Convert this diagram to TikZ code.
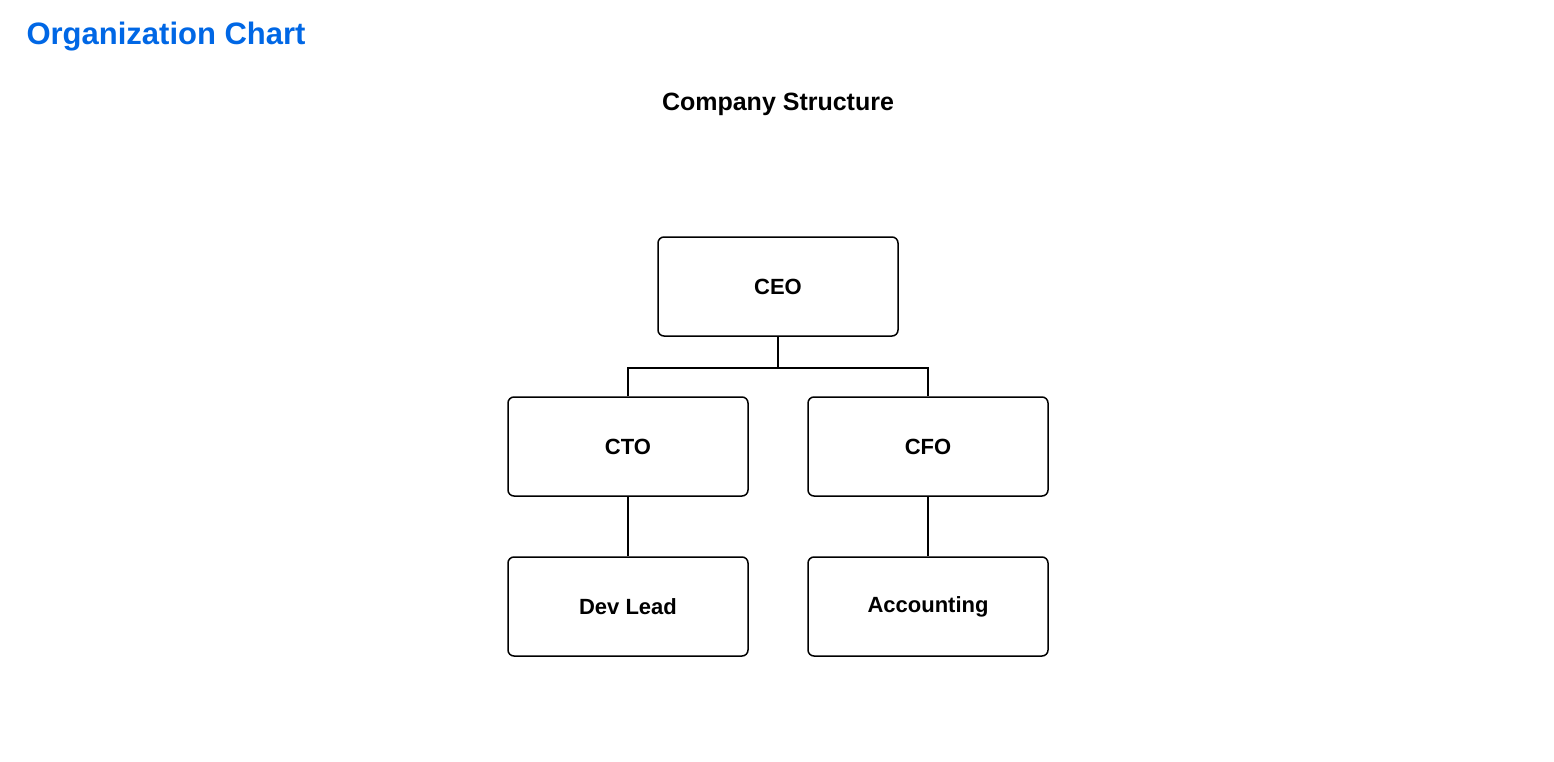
\documentclass[tikz,border=0pt]{standalone}
\usepackage{fontspec}
\setmainfont{Liberation Sans}
\begin{document}
\begin{tikzpicture}[x=1pt,y=-1pt,
  box/.style={draw,line width=1.5pt,rounded corners=6pt,minimum width=240pt,minimum height=99pt,font=\fontsize{22}{26}\selectfont\bfseries},
  link/.style={line width=1.5pt}]
\useasboundingbox (0,0) rectangle (1554,762);
\node[anchor=west,text=blue!55!cyan!90!black,font=\fontsize{31}{36}\selectfont\bfseries] (t) at (23,37) {Organization Chart};
\node[font=\fontsize{25}{30}\selectfont\bfseries] (s) at (778,104) {Company Structure};
\node[box] (ceo) at (778,286.5) {CEO};
\node[box] (cto) at (628,446.5) {CTO};
\node[box] (cfo) at (928,446.5) {CFO};
\node[box] (dev) at (628,606.5) {Dev Lead};
\node[box] (acc) at (928,606.5) {Accounting};
\draw[link] (ceo.south) -- ++(0,31) coordinate (m);
\draw[link] (cto.north) |- (m) -| (cfo.north);
\draw[link] (cto) -- (dev);
\draw[link] (cfo) -- (acc);
\end{tikzpicture}
\end{document}
